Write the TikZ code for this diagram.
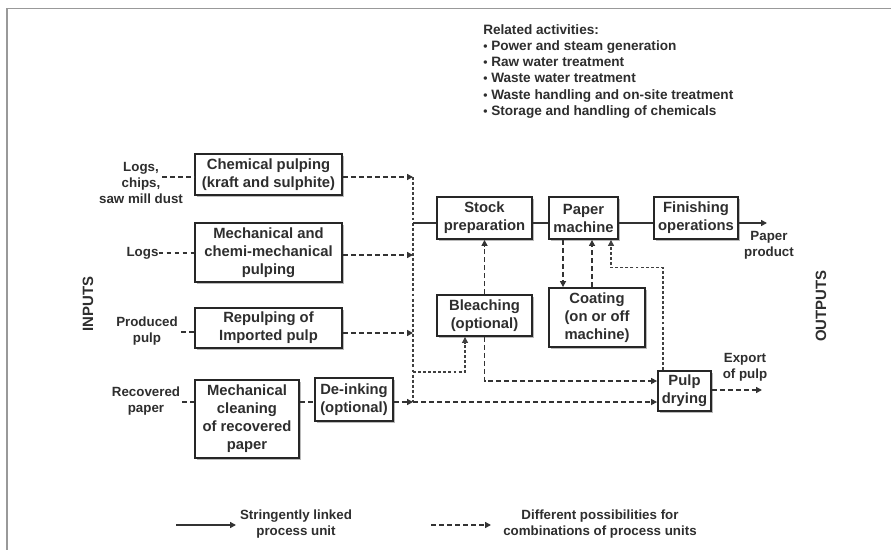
\documentclass[tikz,border=0pt]{standalone}
\usepackage{fontspec}
\setmainfont{Liberation Sans}
\usetikzlibrary{arrows.meta,calc,shadows}

\begin{document}
\begin{tikzpicture}[x=0.75pt,y=-0.75pt,
  box/.style={draw=black!85, line width=1.4pt, fill=white, inner sep=0pt, align=center,
    text=black!82, font=\fontsize{11.1}{13.5}\selectfont\bfseries,
    drop shadow={shadow xshift=1.8pt, shadow yshift=-1.8pt, fill=black!45, opacity=0.6}},
  lbl/.style={align=center, inner sep=0pt, text=black!82, font=\fontsize{10}{12}\selectfont\bfseries},
  sidelbl/.style={inner sep=0pt, text=black!82, rotate=90, font=\fontsize{11.2}{13}\selectfont\bfseries},
  solidlink/.style={draw=black!80, line width=1.3pt},
  dashlink/.style={draw=black!80, line width=1.2pt, dash pattern=on 3.6pt off 2.4pt},
  thinlink/.style={draw=black!75, line width=0.8pt, dash pattern=on 2.2pt off 1.6pt},
  tip/.style={-{Triangle[length=4.5pt,width=4.5pt]}}
]
\useasboundingbox (0,0) rectangle (891,550);
\fill[white] (0,0) rectangle (891,550);
% page frame
\draw[black!40, line width=1.1pt] (891,8.5) -- (7,8.5) -- (7,550);

% related activities
\node[lbl, align=left, anchor=north west, font=\fontsize{10.2}{12.2}\selectfont\bfseries] (rel) at (483,24)
  {Related activities:\\
   {\small•} Power and steam generation\\
   {\small•} Raw water treatment\\
   {\small•} Waste water treatment\\
   {\small•} Waste handling and on-site treatment\\
   {\small•} Storage and handling of chemicals};

% side labels
\node[sidelbl] (inputs) at (88,304) {INPUTS};
\node[sidelbl] (outputs) at (821,306) {OUTPUTS};

% process units
\node[box, minimum width=0.75*147pt, minimum height=0.75*41pt] (chem) at (268.5,174.5)
  {Chemical pulping\\(kraft and sulphite)};
\node[box, minimum width=0.75*147pt, minimum height=0.75*59pt] (mech) at (268.5,252.5)
  {Mechanical and\\chemi-mechanical\\pulping};
\node[box, minimum width=0.75*147pt, minimum height=0.75*40pt] (repulp) at (268.5,328)
  {Repulping of\\Imported pulp};
\node[box, minimum width=0.75*104pt, minimum height=0.75*78pt] (clean) at (247,419)
  {Mechanical\\cleaning\\of recovered\\paper};
\node[box, minimum width=0.75*78pt, minimum height=0.75*43pt] (deink) at (354,399.5)
  {De-inking\\(optional)};
\node[box, minimum width=0.75*95pt, minimum height=0.75*42pt] (stock) at (484.5,218)
  {Stock\\preparation};
\node[box, minimum width=0.75*69pt, minimum height=0.75*42pt] (paper) at (583.5,218)
  {Paper\\machine};
\node[box, minimum width=0.75*84pt, minimum height=0.75*42pt] (finish) at (696,218)
  {Finishing\\operations};
\node[box, minimum width=0.75*95pt, minimum height=0.75*41pt] (bleach) at (484.5,315.5)
  {Bleaching\\(optional)};
\node[box, minimum width=0.75*96pt, minimum height=0.75*59pt] (coat) at (597,317.5)
  {Coating\\(on or off\\machine)};
\node[box, minimum width=0.75*53pt, minimum height=0.75*40pt] (dry) at (684.5,391)
  {Pulp\\drying};

% input and output labels
\node[lbl] (logschips) at (141,183) {Logs,\\chips,\\saw mill dust};
\node[lbl] (logs) at (142.5,253) {Logs};
\node[lbl] (produced) at (147,331) {Produced\\pulp};
\node[lbl] (recovered) at (146,401) {Recovered\\paper};
\node[lbl] (product) at (769,245) {Paper\\product};
\node[lbl] (export) at (745,367) {Export\\of pulp};

% legend
\node[lbl] (legsolid) at (296,524) {Stringently linked\\process unit};
\node[lbl] (legdash) at (600,524) {Different possibilities for\\combinations of process units};

% connection points
\coordinate (busA) at (413,177);
\coordinate (busB) at (413,255);
\coordinate (busC) at (413,333);
\coordinate (busS) at (413,223);
\coordinate (busE) at (413,372);
\coordinate (busD) at (413,402);
\coordinate (prodEnd) at (767,223);
\coordinate (expEnd) at (762,390);
\coordinate (inA) at (162,177);
\coordinate (inC) at (181,332);
\coordinate (inD) at (182,402);
\coordinate (lgA) at (176,525);
\coordinate (lgB) at (236,525);
\coordinate (lgC) at (431,525);
\coordinate (lgD) at (491,525);

% inputs into the pulping units
\draw[dashlink] (inA) -- (inA -| chem.west);
\draw[dashlink] (logs.east) -- (logs.east -| mech.west);
\draw[dashlink] (inC) -- (inC -| repulp.west);
\draw[dashlink] (inD) -- (inD -| clean.west);
\draw[dashlink] (clean.east |- busD) -- (deink.west |- busD);

% pulp collected on the common line
\draw[thinlink] (busA) -- (busD);
\draw[dashlink,tip] (chem.east |- busA) -- (busA);
\draw[dashlink,tip] (mech.east |- busB) -- (busB);
\draw[dashlink,tip] (repulp.east |- busC) -- (busC);
\draw[dashlink,tip] (deink.east |- busD) -- (busD);
\draw[dashlink,tip] (busD) -- (dry.west |- busD);
\draw[thinlink,tip] (busE) -| ($(bleach.south)+(-19.5,0)$);

% main paper line
\draw[solidlink] (busS) -- (stock.west |- busS);
\draw[solidlink] (stock.east |- busS) -- (paper.west |- busS);
\draw[solidlink] (paper.east |- busS) -- (finish.west |- busS);
\draw[solidlink,tip] (finish.east |- busS) -- (prodEnd);

% optional steps
\draw[dashlink,tip] (bleach.north) -- (stock.south);
\draw[dashlink,tip] (bleach.south) |- ($(dry.west)+(0,-10)$);
\draw[dashlink,tip] ($(paper.south)+(-20.5,0)$) coordinate (pdn) -- (pdn |- coat.north);
\draw[dashlink,tip] ($(coat.north)+(-5,0)$) coordinate (cup) -- (cup |- paper.south);
\draw[thinlink,tip] ($(dry.north)+(-21.5,0)$) |- ($(paper.south)+(27.5,28)$) -- ($(paper.south)+(27.5,0)$);
\draw[dashlink,tip] (dry.east |- expEnd) -- (expEnd);

% legend arrows
\draw[solidlink,tip] (lgA) -- (lgB);
\draw[dashlink,tip] (lgC) -- (lgD);
\end{tikzpicture}
\end{document}
